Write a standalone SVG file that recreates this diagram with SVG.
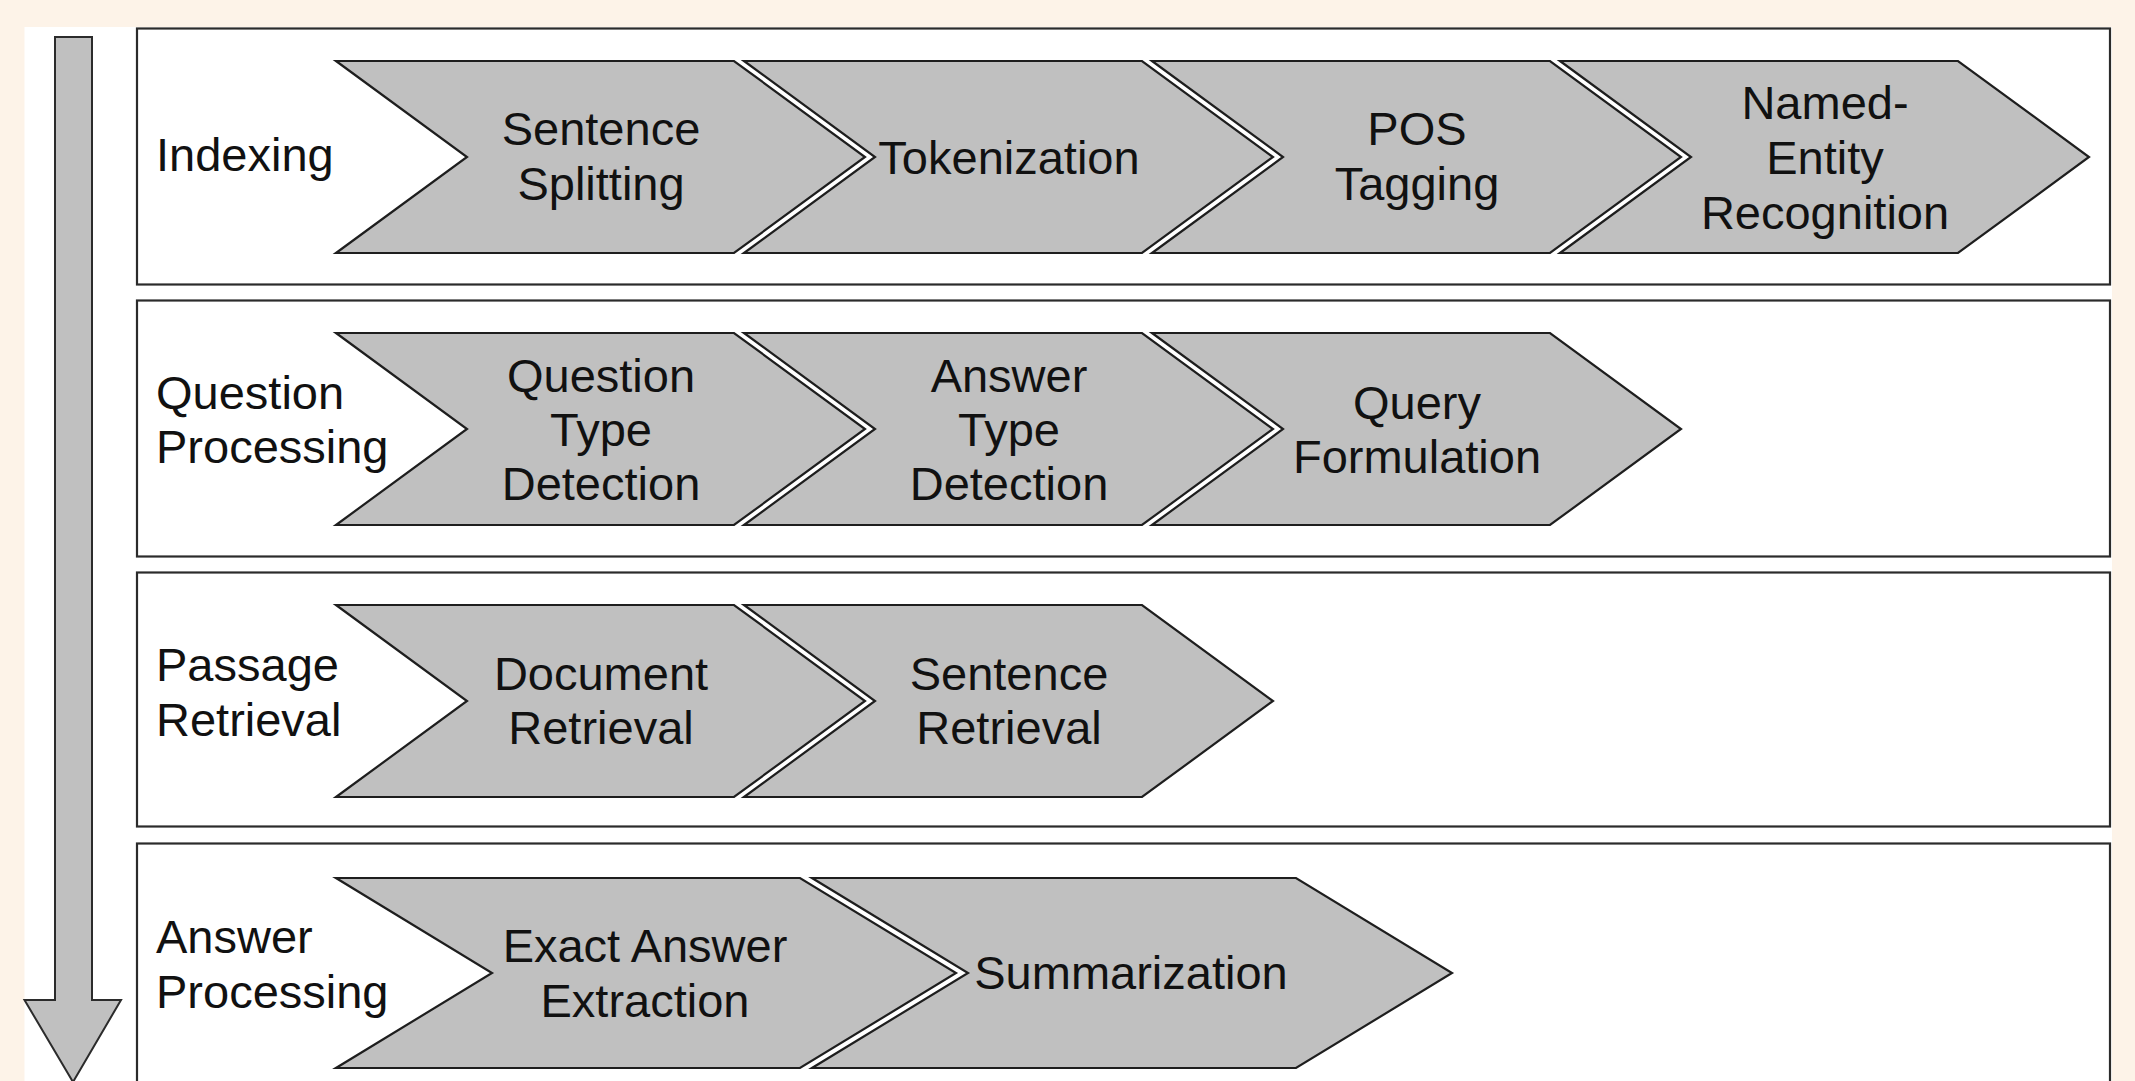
<svg xmlns="http://www.w3.org/2000/svg" width="2135" height="1081" viewBox="0 0 2135 1081">
<style>
.bg{fill:#FDF3E8}
.panel{fill:#FFFFFF}
.row{fill:#FFFFFF;stroke:#2b2b2b;stroke-width:2.2}
.chev{fill:#C0C0C0;stroke:#1e1e1e;stroke-width:2.2;stroke-linejoin:miter}
.arrow{fill:#C0C0C0;stroke:#2b2b2b;stroke-width:2}
text{font-family:"Liberation Sans",Arial,sans-serif;font-size:47px;fill:#111}
.c{text-anchor:middle}
</style>
<rect class="bg" x="0" y="0" width="2135" height="1081"/>
<rect class="panel" x="24.5" y="27" width="2087.5" height="1060"/>

<g id="connectors">
  <polygon class="arrow" points="55,37 92,37 92,1000 121,1000 73,1082 24.5,1000 55,1000"/>
</g>

<g id="row-indexing">
  <rect class="row" x="137" y="28.5" width="1973" height="256"/>
  <text x="156" y="171">Indexing</text>
</g>
<g id="node-sentence-splitting">
  <polygon class="chev" points="336,61 734,61 865,157 734,253 336,253 467,157"/>
  <text class="c" x="601" y="145">Sentence</text>
  <text class="c" x="601" y="200">Splitting</text>
</g>
<g id="node-tokenization">
  <polygon class="chev" points="744,61 1142,61 1273,157 1142,253 744,253 875,157"/>
  <text class="c" x="1009" y="174">Tokenization</text>
</g>
<g id="node-pos-tagging">
  <polygon class="chev" points="1152,61 1550,61 1681,157 1550,253 1152,253 1283,157"/>
  <text class="c" x="1417" y="145">POS</text>
  <text class="c" x="1417" y="200">Tagging</text>
</g>
<g id="node-ner">
  <polygon class="chev" points="1560,61 1958,61 2089,157 1958,253 1560,253 1691,157"/>
  <text class="c" x="1825" y="119">Named-</text>
  <text class="c" x="1825" y="174">Entity</text>
  <text class="c" x="1825" y="229">Recognition</text>
</g>

<g id="row-question-processing">
  <rect class="row" x="137" y="300.5" width="1973" height="256"/>
  <text x="156" y="409">Question</text>
  <text x="156" y="463">Processing</text>
</g>
<g id="node-question-type">
  <polygon class="chev" points="336,333 734,333 865,429 734,525 336,525 467,429"/>
  <text class="c" x="601" y="392">Question</text>
  <text class="c" x="601" y="446">Type</text>
  <text class="c" x="601" y="500">Detection</text>
</g>
<g id="node-answer-type">
  <polygon class="chev" points="744,333 1142,333 1273,429 1142,525 744,525 875,429"/>
  <text class="c" x="1009" y="392">Answer</text>
  <text class="c" x="1009" y="446">Type</text>
  <text class="c" x="1009" y="500">Detection</text>
</g>
<g id="node-query-formulation">
  <polygon class="chev" points="1152,333 1550,333 1681,429 1550,525 1152,525 1283,429"/>
  <text class="c" x="1417" y="419">Query</text>
  <text class="c" x="1417" y="473">Formulation</text>
</g>

<g id="row-passage-retrieval">
  <rect class="row" x="137" y="572.5" width="1973" height="254"/>
  <text x="156" y="681">Passage</text>
  <text x="156" y="736">Retrieval</text>
</g>
<g id="node-document-retrieval">
  <polygon class="chev" points="336,605 734,605 865,701 734,797 336,797 467,701"/>
  <text class="c" x="601" y="690">Document</text>
  <text class="c" x="601" y="744">Retrieval</text>
</g>
<g id="node-sentence-retrieval">
  <polygon class="chev" points="744,605 1142,605 1273,701 1142,797 744,797 875,701"/>
  <text class="c" x="1009" y="690">Sentence</text>
  <text class="c" x="1009" y="744">Retrieval</text>
</g>

<g id="row-answer-processing">
  <rect class="row" x="137" y="843.5" width="1973" height="258"/>
  <text x="156" y="953">Answer</text>
  <text x="156" y="1008">Processing</text>
</g>
<g id="node-exact-answer">
  <polygon class="chev" points="336,878 800,878 956,973 800,1068 336,1068 492,973"/>
  <text class="c" x="645" y="962">Exact Answer</text>
  <text class="c" x="645" y="1017">Extraction</text>
</g>
<g id="node-summarization">
  <polygon class="chev" points="812,878 1296,878 1452,973 1296,1068 812,1068 968,973"/>
  <text class="c" x="1131" y="989">Summarization</text>
</g>
</svg>
